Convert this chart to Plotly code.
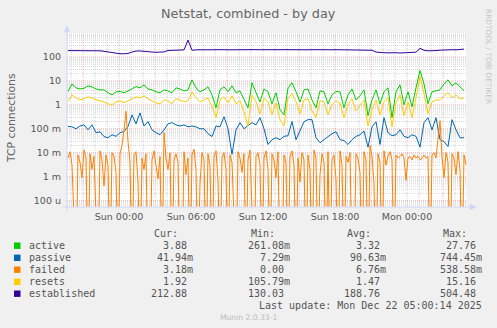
import plotly.graph_objects as go
import pandas as pd

# ---------------- data ----------------
times = pd.date_range("2025-12-20 19:45", periods=100, freq="20min")
times_failed = pd.date_range("2025-12-20 19:45", periods=200, freq="10min")

active = [3.6, 7.5, 5.1, 4.6, 4.9, 6.2, 5.6, 4.6, 4.2, 4.2,
          3.2, 2.6, 3.5, 3.6, 3.2, 3.8, 4.6, 5.8, 5.1, 6.8,
          4.6, 4.2, 3.5, 3.2, 4.2, 3.8, 3.2, 5.1, 4.6, 3.8,
          4.2, 11.0, 5.1, 3.5, 4.2, 5.6, 2.6, 0.75, 4.2, 5.6,
          3.5, 6.2, 3.2, 3.8, 1.6, 0.75, 8.3, 3.5, 1.3, 4.6,
          3.5, 1.1, 3.2, 0.62, 0.38, 5.1, 8.3, 3.5, 1.3, 4.2,
          4.6, 1.6, 0.75, 3.8, 3.5, 1.1, 2.6, 3.6, 3.5, 0.75,
          2.6, 4.6, 1.6, 2.4, 4.2, 0.35, 1.6, 4.2, 1.1, 3.5,
          5.1, 0.29, 3.5, 6.8, 1.0, 3.5, 0.83, 5.1, 27.0, 7.5,
          1.1, 3.5, 3.8, 4.2, 7.5, 11.0, 6.2, 8.3, 5.6, 3.88]

passive = [0.125, 0.12, 0.10, 0.13, 0.145, 0.09, 0.145, 0.068, 0.075, 0.047,
           0.042, 0.056, 0.048, 0.068, 0.077, 0.125, 0.38, 0.16, 0.46, 0.13,
           0.2, 0.09, 0.068, 0.056, 0.09, 0.16, 0.18, 0.145, 0.13, 0.145,
           0.12, 0.13, 0.12, 0.10, 0.10, 0.062, 0.047, 0.13, 0.12, 0.32,
           0.10, 0.0085, 0.09, 0.18, 0.10, 0.13, 0.18, 0.145, 0.29, 0.10,
           0.022, 0.035, 0.042, 0.035, 0.048, 0.051, 0.2, 0.035, 0.09, 0.196,
           0.24, 0.24, 0.042, 0.026, 0.035, 0.048, 0.062, 0.075, 0.035, 0.032,
           0.022, 0.035, 0.048, 0.056, 0.08, 0.017, 0.12, 0.196, 0.022, 0.29,
           0.068, 0.051, 0.056, 0.09, 0.048, 0.042, 0.056, 0.048, 0.017, 0.18,
           0.29, 0.09, 0.29, 0.035, 0.029, 0.018, 0.24, 0.09, 0.042, 0.042]

failed = [0.006, 0.011, 0.003, 0, 0, 0.008, 0.004, 0.0009, 0.013, 0.006,
          0, 0.009, 0.002, 0.007, 0, 0, 0.012, 0.005, 0.0004, 0.008,
          0.003, 0, 0.01, 0.007, 0.0015, 0, 0.009, 0.02, 0.09, 0.54,
          0.03, 0.004, 0, 0.008, 0.011, 0.0006, 0, 0.006, 0.002, 0.009,
          0, 0, 0.005, 0.012, 0.003, 0.0008, 0.007, 0, 0.07, 0.006,
          0.002, 0.01, 0, 0.005, 0.009, 0.004, 0, 0, 0.011, 0.0012,
          0.006, 0, 0.008, 0.014, 0.002, 0, 0.0005, 0.01, 0.005, 0,
          0.009, 0.003, 0, 0.007, 0.012, 0.0007, 0, 0.006, 0.01, 0.002,
          0, 0.008, 0.004, 0, 0, 0.011, 0.006, 0.0015, 0.009, 0,
          0.005, 0.013, 0.0004, 0, 0.007, 0.01, 0.003, 0, 0.006, 0.012,
          0.002, 0, 0.009, 0.005, 0.0009, 0.011, 0, 0, 0.008, 0.004,
          0, 0.007, 0.012, 0.003, 0, 0.006, 0.0006, 0.01, 0.005, 0,
          0.008, 0.002, 0, 0.013, 0.006, 0, 0.0012, 0.009, 0.004, 0,
          0.011, 0, 0.005, 0.008, 0.0008, 0, 0.012, 0.003, 0, 0.007,
          0.004, 0.01, 0, 0, 0.009, 0.006, 0.0015, 0, 0.011, 0.005,
          0, 0.02, 0.007, 0.0005, 0, 0.009, 0.004, 0, 0.012, 0.003,
          0.007, 0.011, 0.005, 0, 0.008, 0.006, 0.007, 0.009, 0.006, 0.0007,
          0.006, 0.007, 0.005, 0.008, 0.006, 0.007, 0.005, 0.006, 0.008, 0.006,
          0.007, 0, 0.008, 0.01, 0.006, 0.04, 0.22, 0.007, 0.0009, 0.01,
          0.004, 0, 0.009, 0.006, 0.0012, 0.011, 0.002, 0, 0.008, 0.00318]

resets = [1.4, 2.6, 1.96, 1.6, 1.8, 2.15, 1.96, 1.6, 1.47, 1.33,
          1.1, 1.0, 1.33, 1.47, 1.2, 1.47, 1.8, 2.15, 1.96, 2.4,
          1.8, 1.47, 1.2, 1.1, 1.6, 1.47, 1.1, 1.8, 1.6, 1.33,
          1.47, 3.5, 1.96, 1.33, 1.6, 1.96, 0.9, 0.29, 1.6, 2.15,
          1.2, 2.4, 1.1, 1.47, 0.51, 0.13, 2.6, 1.33, 0.42, 1.8,
          1.33, 0.38, 1.2, 0.24, 0.13, 1.96, 2.9, 1.33, 0.42, 1.6,
          1.8, 0.56, 0.29, 1.47, 1.33, 0.38, 1.0, 1.47, 1.2, 0.29,
          1.0, 1.8, 0.56, 0.9, 1.6, 0.13, 0.62, 1.6, 0.38, 1.33,
          1.96, 0.12, 1.2, 2.6, 0.35, 1.33, 0.29, 1.96, 15.0, 2.9,
          0.42, 1.33, 1.6, 1.6, 2.4, 3.2, 1.96, 2.6, 1.8, 1.92]

established = [184, 185, 184, 183, 184, 185, 184, 183, 180, 172,
               160, 150, 142, 136, 135, 140, 160, 176, 178, 176,
               170, 160, 156, 157, 162, 186, 192, 196, 195, 197,
               505, 190, 198, 200, 198, 202, 199, 196, 200, 201,
               198, 200, 203, 199, 200, 196, 199, 202, 200, 198,
               201, 200, 204, 199, 198, 201, 200, 197, 200, 202,
               199, 201, 198, 200, 203, 200, 199, 201, 200, 198,
               200, 201, 199, 200, 198, 199, 190, 160, 152, 150,
               148, 152, 150, 146, 150, 152, 148, 158, 228, 190,
               180, 176, 184, 192, 198, 205, 200, 198, 203, 212.88]

series_names = ["active", "passive", "failed", "resets", "established"]
series_colors = ["#00CC00", "#0066B3", "#FF8000", "#FFCC00", "#330099"]
cur_vals = ["3.88", "41.94m", "3.18m", "1.92", "212.88"]
min_vals = ["261.08m", "7.29m", "0.00", "105.79m", "130.03"]
avg_vals = ["3.32", "90.63m", "6.76m", "1.47", "188.76"]
max_vals = ["27.76", "744.45m", "538.58m", "15.16", "504.48"]

x_tick_times = ["2025-12-21 00:00", "2025-12-21 06:00", "2025-12-21 12:00",
                "2025-12-21 18:00", "2025-12-22 00:00"]
x_tick_text = ["Sun 00:00", "Sun 06:00", "Sun 12:00", "Sun 18:00", "Mon 00:00"]
y_tick_vals = [1e-4, 1e-3, 1e-2, 1e-1, 1, 10, 100]
y_tick_text = ["100 u", "1 m", "10 m", "100 m", "1", "10", "100"]

x_start, x_end = "2025-12-20 19:40", "2025-12-22 05:00"

# ---------------- geometry helpers (pixel -> paper) ----------------
W, H = 497, 328
L, R, T, B = 67, 30, 33, 121
PW, PH = W - L - R, H - T - B


def px(x):
    return (x - L) / PW


def py(y):
    return (H - B - y) / PH


FONT = "DejaVu Sans"
MONO = "DejaVu Sans Mono"
TXT = "#555555"

fig = go.Figure()

failed_plot = [v if v > 0 else 1e-7 for v in failed]
data_map = {
    "active": (times, active),
    "passive": (times, passive),
    "failed": (times_failed, failed_plot),
    "resets": (times, resets),
    "established": (times, established),
}
for name, col in zip(series_names, series_colors):
    xs, ys = data_map[name]
    fig.add_trace(go.Scatter(x=xs, y=ys, mode="lines", name=name,
                             line=dict(color=col, width=1), hoverinfo="skip"))

GRID = "#D6D6D6"
MGRID = "rgba(235,140,140,0.55)"
shapes = []
# horizontal log grid
for n in range(-5, 3):
    for k in range(1, 10):
        v = k * 10 ** n
        if v < 10 ** -4.27 or v > 1000:
            continue
        major = (k == 1)
        shapes.append(dict(type="line", xref="paper", yref="y", x0=0, x1=1,
                           y0=v, y1=v, layer="below",
                           line=dict(color=MGRID if major else GRID,
                                     width=1, dash="1px,1px")))
# vertical time grid (hourly minor, 3-hourly major)
for t in pd.date_range("2025-12-20 20:00", "2025-12-22 05:00", freq="1h"):
    major = (t.hour % 3 == 0)
    shapes.append(dict(type="line", xref="x", yref="paper", x0=t, x1=t,
                       y0=0, y1=1, layer="below",
                       line=dict(color=MGRID if major else GRID,
                                 width=1, dash="1px,1px")))
AX = "#CFD6F8"
# axes and arrows
shapes.append(dict(type="line", xref="paper", yref="paper", x0=px(67), x1=px(67),
                   y0=py(211), y1=py(30), line=dict(color=AX, width=1)))
shapes.append(dict(type="line", xref="paper", yref="paper", x0=px(63), x1=px(472),
                   y0=py(207), y1=py(207), line=dict(color=AX, width=1)))
shapes.append(dict(type="path", xref="paper", yref="paper",
                   path=f"M {px(64)} {py(32)} L {px(70)} {py(32)} L {px(67)} {py(26)} Z",
                   fillcolor=AX, line=dict(color=AX, width=0.5)))
shapes.append(dict(type="path", xref="paper", yref="paper",
                   path=f"M {px(470)} {py(204)} L {px(470)} {py(210)} L {px(476)} {py(207)} Z",
                   fillcolor=AX, line=dict(color=AX, width=0.5)))

# legend squares
row_y = [245.7, 257.8, 269.7, 281.8, 293.7]
for col, yy in zip(series_colors, row_y):
    shapes.append(dict(type="rect", xref="paper", yref="paper",
                       x0=px(14), x1=px(20.5), y0=py(yy + 3.2), y1=py(yy - 3.2),
                       fillcolor=col, line=dict(width=0)))

ann = []


def text(x, y, s, size, color=TXT, family=FONT, xanchor="left", angle=0):
    ann.append(dict(x=px(x), y=py(y), xref="paper", yref="paper", text=s,
                    showarrow=False, xanchor=xanchor, yanchor="middle",
                    textangle=angle, font=dict(family=family, size=size, color=color)))


text(248.5, 13.5, "Netstat, combined - by day", 12.8, color="#666666", xanchor="center")
text(11, 118, "TCP connections", 10.8, color="#666666", xanchor="center", angle=-90)
text(488.5, 56.5, "RRDTOOL / TOBI OETIKER", 7.4, color="#C4C4C4", xanchor="center", angle=90)

# legend headers
for hdr, xr in zip(["Cur:", "Min:", "Avg:", "Max:"], [180.2, 277.3, 373.3, 469.3]):
    text(xr, 233.3, hdr, 10, family=MONO, xanchor="right")
col_right = [194.5, 292.0, 387.5, 483.5]
for i, name in enumerate(series_names):
    yy = row_y[i]
    text(26.5, yy, name, 10, family=MONO)
    for vals, xr in zip([cur_vals, min_vals, avg_vals, max_vals], col_right):
        s = vals[i]
        off = 0 if s.endswith("m") else 6.0
        text(xr - off, yy, s, 10, family=MONO, xanchor="right")
text(483.5, 305.7, "Last update: Mon Dec 22 05:00:14 2025", 10, family=MONO, xanchor="right")
text(248.7, 317.3, "Munin 2.0.33-1", 7.6, color="#BBBBBB", xanchor="center")

fig.update_layout(
    width=W, height=H,
    margin=dict(l=L, r=R, t=T, b=B, pad=0),
    paper_bgcolor="#F0F0F0", plot_bgcolor="#FFFFFF",
    showlegend=False,
    shapes=shapes, annotations=ann,
    font=dict(family=FONT, color=TXT),
    xaxis=dict(type="date", range=[x_start, x_end], tickvals=x_tick_times,
               ticktext=x_tick_text, showgrid=False, zeroline=False, showline=False,
               ticks="", tickfont=dict(family=FONT, size=9.5, color=TXT),
               ticklabelstandoff=2, fixedrange=True),
    yaxis=dict(type="log", range=[-4.27, 3.0], tickvals=y_tick_vals,
               ticktext=y_tick_text, showgrid=False, zeroline=False, showline=False,
               ticks="", tickfont=dict(family=FONT, size=9.5, color=TXT),
               ticklabelstandoff=5, fixedrange=True),
)

fig.write_html("out.html", config={"displayModeBar": False})
